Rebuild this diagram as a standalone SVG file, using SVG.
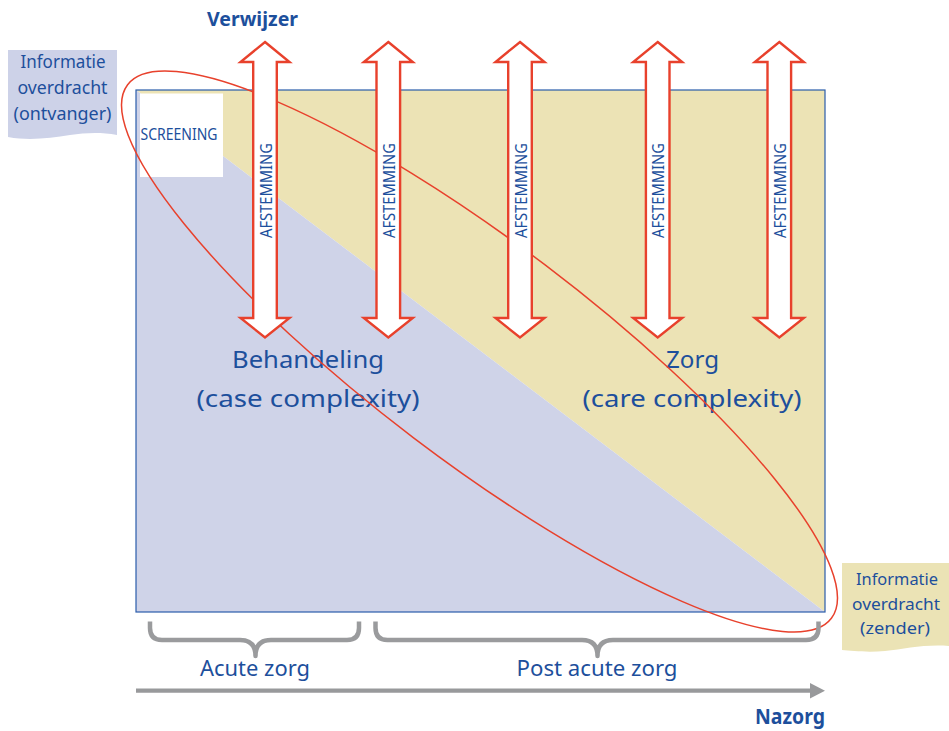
<svg xmlns="http://www.w3.org/2000/svg" xmlns:xlink="http://www.w3.org/1999/xlink" width="949" height="731" viewBox="0 0 949 731">
  <style>
    text { font-family: "Noto Sans", "Open Sans", "Liberation Sans", sans-serif; fill: #1d4f9c; }
    .bold { font-weight: bold; }
    .afst { font-size: 16px; }
    .big { font-size: 24px; }
    .lbl { font-size: 18px; }
    .brace { fill: none; stroke: #9a9b9d; stroke-width: 4.5; stroke-linecap: butt; stroke-linejoin: round; }
    .arrow { fill: #ffffff; stroke: #e8412c; stroke-width: 2.4; stroke-linejoin: miter; }
  </style>
  <defs>
    <path id="dblArrow" d="M0,42 L24.5,62 L11.8,62 L11.8,318 L24.5,318 L0,337.5 L-24.5,318 L-11.8,318 L-11.8,62 L-24.5,62 Z"/>
  </defs>

  <!-- background panel -->
  <g id="panel">
    <polygon points="136,90 825,90 825,612" fill="#ece3b5"/>
    <polygon points="136,90 136,612 825,612" fill="#cfd3e8"/>
    <rect x="136" y="90" width="689" height="522" fill="none" stroke="#2a5dab" stroke-width="1.2"/>
  </g>

  <g id="screening">
    <rect x="140" y="93.5" width="83" height="83.5" fill="#ffffff"/>
    <text x="179" y="140" font-size="16" text-anchor="middle" textLength="77" lengthAdjust="spacingAndGlyphs">SCREENING</text>
  </g>

  <g id="behandeling">
    <text class="big" x="308" y="368" text-anchor="middle" textLength="152" lengthAdjust="spacingAndGlyphs">Behandeling</text>
    <text class="big" x="308" y="407" text-anchor="middle" textLength="223" lengthAdjust="spacingAndGlyphs">(case complexity)</text>
  </g>

  <g id="zorg">
    <text class="big" x="692.5" y="368" text-anchor="middle" textLength="53" lengthAdjust="spacingAndGlyphs">Zorg</text>
    <text class="big" x="692" y="407" text-anchor="middle" textLength="219" lengthAdjust="spacingAndGlyphs">(care complexity)</text>
  </g>

  <g id="info-ontvanger">
    <path d="M8,50 H117 V135 C100,132 85,133 70,135 C50,138 30,141 8,137 Z" fill="#cdd2e8"/>
    <text class="lbl" x="63" y="68" text-anchor="middle" textLength="85" lengthAdjust="spacingAndGlyphs">Informatie</text>
    <text class="lbl" x="62.5" y="94" text-anchor="middle" textLength="90" lengthAdjust="spacingAndGlyphs">overdracht</text>
    <text class="lbl" x="62.5" y="120" text-anchor="middle" textLength="98" lengthAdjust="spacingAndGlyphs">(ontvanger)</text>
  </g>

  <g id="info-zender">
    <path d="M842,563 H949 V646 C925,644 905,649 885,651 C868,652.5 852,651 842,650 Z" fill="#ebe3b5"/>
    <text x="897" y="585" font-size="17" text-anchor="middle" textLength="82" lengthAdjust="spacingAndGlyphs">Informatie</text>
    <text x="896" y="610" font-size="17" text-anchor="middle" textLength="88" lengthAdjust="spacingAndGlyphs">overdracht</text>
    <text x="895" y="634" font-size="17" text-anchor="middle" textLength="70" lengthAdjust="spacingAndGlyphs">(zender)</text>
  </g>

  <g id="verwijzer">
    <text class="bold" x="252.5" y="26" font-size="20" text-anchor="middle" textLength="91" lengthAdjust="spacingAndGlyphs">Verwijzer</text>
  </g>

  <g id="connectors">
    <!-- ellipse -->
    <ellipse cx="479.5" cy="351.5" rx="441.6" ry="108.6" transform="rotate(37.17 479.5 351.5)" fill="none" stroke="#e8412c" stroke-width="1.5"/>
    <!-- timeline arrow -->
    <line x1="136" y1="690.7" x2="812" y2="690.7" stroke="#98999b" stroke-width="4.3"/>
    <polygon points="810,683 825,690.7 810,698.4" fill="#98999b"/>
    <!-- braces -->
    <path class="brace" d="M150,621.5 V628 Q150,640 162,640 H240 Q255.5,640 255.5,656 Q255.5,640 271,640 H347 Q359,640 359,628 V621.5"/>
    <path class="brace" d="M375.5,621.5 V628 Q375.5,640 387.5,640 H582 Q597.5,640 597.5,656 Q597.5,640 613,640 H806 Q818.5,640 818.5,628 V621.5"/>
  </g>

  <g id="afstemming-1">
    <use xlink:href="#dblArrow" class="arrow" transform="translate(265,0)"/>
    <text class="afst" transform="translate(271.5,190.5) rotate(-90)" text-anchor="middle" textLength="95" lengthAdjust="spacingAndGlyphs">AFSTEMMING</text>
  </g>
  <g id="afstemming-2">
    <use xlink:href="#dblArrow" class="arrow" transform="translate(388.3,0)"/>
    <text class="afst" transform="translate(394.8,190.5) rotate(-90)" text-anchor="middle" textLength="95" lengthAdjust="spacingAndGlyphs">AFSTEMMING</text>
  </g>
  <g id="afstemming-3">
    <use xlink:href="#dblArrow" class="arrow" transform="translate(520,0)"/>
    <text class="afst" transform="translate(526.5,190.5) rotate(-90)" text-anchor="middle" textLength="95" lengthAdjust="spacingAndGlyphs">AFSTEMMING</text>
  </g>
  <g id="afstemming-4">
    <use xlink:href="#dblArrow" class="arrow" transform="translate(657.7,0)"/>
    <text class="afst" transform="translate(664.2,190.5) rotate(-90)" text-anchor="middle" textLength="95" lengthAdjust="spacingAndGlyphs">AFSTEMMING</text>
  </g>
  <g id="afstemming-5">
    <use xlink:href="#dblArrow" class="arrow" transform="translate(779.3,0)"/>
    <text class="afst" transform="translate(785.8,190.5) rotate(-90)" text-anchor="middle" textLength="95" lengthAdjust="spacingAndGlyphs">AFSTEMMING</text>
  </g>

  <g id="acute-zorg">
    <text x="255" y="676" font-size="21" text-anchor="middle" textLength="110" lengthAdjust="spacingAndGlyphs">Acute zorg</text>
  </g>
  <g id="post-acute-zorg">
    <text x="597" y="676" font-size="21" text-anchor="middle" textLength="161" lengthAdjust="spacingAndGlyphs">Post acute zorg</text>
  </g>
  <g id="nazorg">
    <text class="bold" x="790" y="724" font-size="21" text-anchor="middle" textLength="70" lengthAdjust="spacingAndGlyphs">Nazorg</text>
  </g>
</svg>
